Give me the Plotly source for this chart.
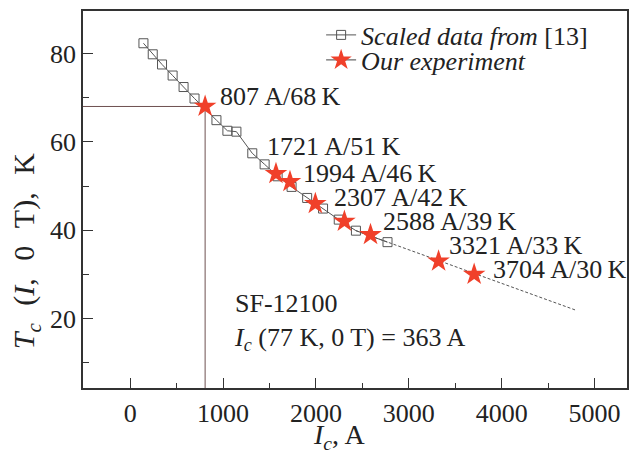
import plotly.graph_objects as go

# ---------------- data ----------------
# Scaled data from [13]
scaled_I = [143, 243, 343, 457, 575, 693, 929, 1047, 1144, 1315, 1448, 1588,
            1738, 1906, 2077, 2246, 2431, 2771]
scaled_T = [82.3, 79.8, 77.5, 75.0, 72.4, 69.8, 64.9, 62.5, 62.3, 57.4, 54.9, 52.2,
            49.8, 47.3, 44.9, 42.4, 39.9, 37.3]

# dashed extrapolation of the scaled data
extrap_I = [2431, 4800]
extrap_T = [39.9, 21.9]

# Our experiment
exp_I = [807, 1570, 1721, 1994, 2307, 2588, 3321, 3704]
exp_T = [68, 52.8, 51, 46, 42, 39, 33, 30]

# labelled experimental points
label_I = [807, 1721, 1994, 2307, 2588, 3321, 3704]
label_T = [68, 51, 46, 42, 39, 33, 30]

# reference crossing point
ref_I = 807
ref_T = 68

x_tickvals = [0, 1000, 2000, 3000, 4000, 5000]
y_tickvals = [20, 40, 60, 80]

X_RANGE = [-508, 5350]
Y_RANGE = [4.3, 89.6]

# ---------------- styles ----------------
FONT = "Liberation Serif"
TXT = "#222222"
AX = "#333333"
STAR = "#f0402a"
FS = 26

# label pixel offsets (style only)
label_dx = [13, -25, -14, -12, 10, 8, 17]
label_dy = [10, 35, 30, 24, 13, 16, 5]

fig = go.Figure()

# reference lines
fig.add_trace(go.Scatter(
    x=[X_RANGE[0], ref_I, ref_I], y=[ref_T, ref_T, Y_RANGE[0]],
    mode="lines", line=dict(color="#6e5050", width=1), showlegend=False,
    hoverinfo="skip"))

# dashed extrapolation
fig.add_trace(go.Scatter(
    x=extrap_I, y=extrap_T, mode="lines",
    line=dict(color="#555555", width=1, dash="3px,2px"), showlegend=False))

# scaled data
fig.add_trace(go.Scatter(
    x=scaled_I, y=scaled_T, mode="lines+markers",
    name="<i>Scaled data from</i> [13]",
    line=dict(color="#555555", width=1),
    marker=dict(symbol="square-open", size=9, color="#555555",
                line=dict(width=1)),
    legend="legend"))

# experiment (no connecting line)
fig.add_trace(go.Scatter(
    x=exp_I, y=exp_T, mode="markers", showlegend=False,
    marker=dict(symbol="star", size=17, color=STAR, line=dict(width=0))))

# legend-only entry for experiment
fig.add_trace(go.Scatter(
    x=[None], y=[None], mode="lines+markers",
    name="<i>Our experiment</i>",
    line=dict(color="#444444", width=1),
    marker=dict(symbol="star", size=17, color=STAR, line=dict(width=0)),
    legend="legend2"))

annotations = []
for I, T, dx, dy in zip(label_I, label_T, label_dx, label_dy):
    annotations.append(dict(
        x=I, y=T, xref="x", yref="y", xanchor="left", yanchor="middle",
        xshift=dx, yshift=dy, showarrow=False,
        text=f"{I}\u2009A/{T}\u2009K",
        font=dict(family=FONT, size=FS, color=TXT)))

annotations.append(dict(
    x=(233 - 83) / 546, y=(388 - 322) / 377, xref="paper", yref="paper",
    xanchor="left", yanchor="middle", align="left", showarrow=False,
    text="SF-12100<br><i>I<sub>c</sub></i> (77 K, 0 T) = 363 A",
    font=dict(family=FONT, size=FS, color=TXT)))

# axis titles
annotations.append(dict(
    x=(340 - 83) / 546, y=-(436 - 388) / 377, xref="paper", yref="paper",
    xanchor="center", yanchor="middle", showarrow=False,
    text="<i>I<sub>c</sub></i>, A",
    font=dict(family=FONT, size=28, color=TXT)))
SP = "\u2002\u200a"
annotations.append(dict(
    x=-(83 - 26) / 546, y=(388 - 251) / 377, xref="paper", yref="paper",
    xanchor="center", yanchor="middle", showarrow=False, textangle=-90,
    text=f"<i>T<sub>c</sub></i>{SP}(<i>I</i>,{SP}0{SP}T),{SP}K",
    font=dict(family=FONT, size=30, color=TXT)))

axis_common = dict(
    showline=True, linecolor=AX, linewidth=1.6, mirror=True,
    showgrid=False, zeroline=False,
    ticks="inside", ticklen=10, tickwidth=1.3, tickcolor=AX,
    tickfont=dict(family=FONT, size=FS, color=TXT),
)

fig.update_layout(
    width=638, height=456,
    margin=dict(l=83, r=9, t=11, b=68, pad=0),
    paper_bgcolor="white", plot_bgcolor="white",
    xaxis=dict(range=X_RANGE, tickvals=x_tickvals, ticklabelstandoff=1,
               minor=dict(ticks="inside", ticklen=5, tickwidth=1.3,
                          tickcolor=AX, dtick=500, tick0=0),
               **axis_common),
    yaxis=dict(range=Y_RANGE, tickvals=y_tickvals, ticklabelstandoff=0,
               minor=dict(ticks="inside", ticklen=6, tickwidth=1.3,
                          tickcolor=AX, dtick=10, tick0=0),
               **axis_common),
    legend=dict(x=(322 - 83) / 546, y=(388 - 35) / 377, xanchor="left",
                yanchor="middle", bgcolor="rgba(0,0,0,0)",
                font=dict(family=FONT, size=FS, color=TXT)),
    legend2=dict(x=(322 - 83) / 546, y=(388 - 60) / 377, xanchor="left",
                 yanchor="middle", bgcolor="rgba(0,0,0,0)",
                 font=dict(family=FONT, size=FS, color=TXT)),
    annotations=annotations,
    showlegend=True,
)

fig.write_html("out.html")
